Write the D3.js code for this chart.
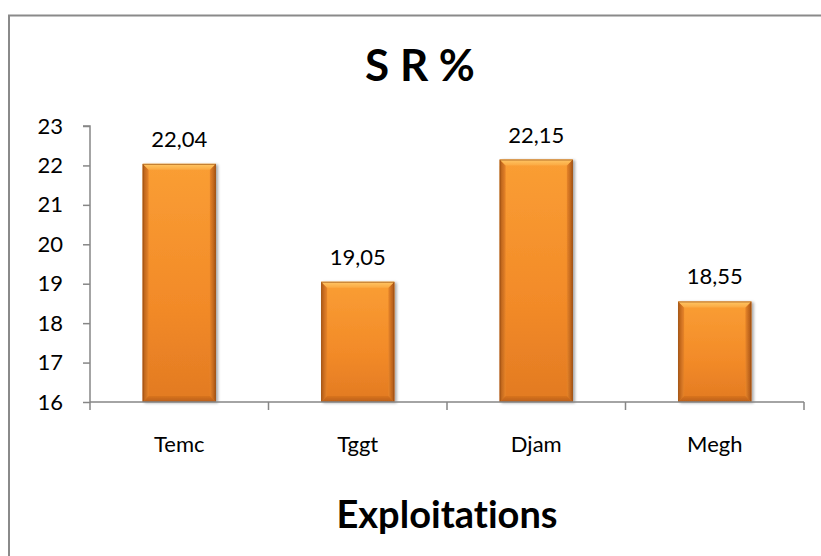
<!DOCTYPE html>
<html>
<head>
<meta charset="utf-8">
<script src="https://cdn.jsdelivr.net/npm/d3@7"></script>
<style>
  html, body { margin: 0; padding: 0; background: #fff; }
  svg { display: block; }
  text { font-family: Lato, "Open Sans", sans-serif; fill: #000; font-variant-ligatures: none; }
</style>
</head>
<body>
<svg id="chart" width="821" height="556"></svg>
<script>
// Data
const categories = ["Temc", "Tggt", "Djam", "Megh"];
const values = [22.04, 19.05, 22.15, 18.55];
const valueLabels = ["22,04", "19,05", "22,15", "18,55"];
const yTicks = [16, 17, 18, 19, 20, 21, 22, 23];
const chartTitle = "S R %";
const xTitle = "Exploitations";

const svg = d3.select("#chart");

// Outer chart frame (extends past the right and bottom edges)
svg.append("rect")
  .attr("x", 9).attr("y", 15.5)
  .attr("width", 900).attr("height", 700)
  .attr("fill", "none").attr("stroke", "#8a8a8a").attr("stroke-width", 2);

const plot = { left: 90, right: 804, top: 126, bottom: 402 };

const x = d3.scaleBand().domain(categories).range([plot.left, plot.right]).padding(0);
const y = d3.scaleLinear().domain([16, 23]).range([plot.bottom, plot.top]);

// Gradients for the bevelled bars
const defs = svg.append("defs");
const body = defs.append("linearGradient").attr("id", "barBody")
  .attr("x1", 0).attr("y1", 0).attr("x2", 0).attr("y2", 1);
body.append("stop").attr("offset", "0%").attr("stop-color", "#FA9E34");
body.append("stop").attr("offset", "60%").attr("stop-color", "#F28A28");
body.append("stop").attr("offset", "100%").attr("stop-color", "#E27A22");

const sideL = defs.append("linearGradient").attr("id", "sideL")
  .attr("x1", 0).attr("y1", 0).attr("x2", 1).attr("y2", 0);
sideL.append("stop").attr("offset", "0%").attr("stop-color", "#B05A18");
sideL.append("stop").attr("offset", "100%").attr("stop-color", "#E8852A");
const sideR = defs.append("linearGradient").attr("id", "sideR")
  .attr("x1", 0).attr("y1", 0).attr("x2", 1).attr("y2", 0);
sideR.append("stop").attr("offset", "0%").attr("stop-color", "#E8852A");
sideR.append("stop").attr("offset", "100%").attr("stop-color", "#A85416");
const topG = defs.append("linearGradient").attr("id", "topG")
  .attr("x1", 0).attr("y1", 0).attr("x2", 0).attr("y2", 1);
topG.append("stop").attr("offset", "0%").attr("stop-color", "#FFC766");
topG.append("stop").attr("offset", "100%").attr("stop-color", "#FBA941");
const botG = defs.append("linearGradient").attr("id", "botG")
  .attr("x1", 0).attr("y1", 0).attr("x2", 0).attr("y2", 1);
botG.append("stop").attr("offset", "0%").attr("stop-color", "#D9741F");
botG.append("stop").attr("offset", "100%").attr("stop-color", "#B85E18");

const shadow = defs.append("filter").attr("id", "shadow")
  .attr("x", "-20%").attr("y", "-20%").attr("width", "140%").attr("height", "140%");
shadow.append("feGaussianBlur").attr("in", "SourceAlpha").attr("stdDeviation", 1.5);
shadow.append("feOffset").attr("dx", 2).attr("dy", 1).attr("result", "ob");
shadow.append("feComponentTransfer").append("feFuncA").attr("type", "linear").attr("slope", 0.35);
const merge = shadow.append("feMerge");
merge.append("feMergeNode");
merge.append("feMergeNode").attr("in", "SourceGraphic");

// Bars
const barFrac = 0.41;
const bev = 6;
const bars = svg.append("g").selectAll("g.bar")
  .data(categories.map((c, i) => ({ c, v: values[i], label: valueLabels[i] })))
  .join("g").attr("class", "bar");

bars.each(function (d) {
  const g = d3.select(this);
  const bw = x.bandwidth() * barFrac;
  const x0 = x(d.c) + (x.bandwidth() - bw) / 2;
  const x1 = x0 + bw;
  const y0 = y(d.v);
  const y1 = y(16);
  const grp = g.append("g").attr("filter", "url(#shadow)");
  grp.append("rect").attr("x", x0).attr("y", y0).attr("width", bw).attr("height", y1 - y0)
    .attr("fill", "url(#barBody)");
  // left bevel
  grp.append("path").attr("d", `M${x0},${y0}L${x0 + bev},${y0 + bev}L${x0 + bev},${y1 - bev}L${x0},${y1}Z`)
    .attr("fill", "url(#sideL)");
  // right bevel
  grp.append("path").attr("d", `M${x1},${y0}L${x1 - bev},${y0 + bev}L${x1 - bev},${y1 - bev}L${x1},${y1}Z`)
    .attr("fill", "url(#sideR)");
  // top bevel
  grp.append("path").attr("d", `M${x0},${y0}L${x1},${y0}L${x1 - bev},${y0 + bev}L${x0 + bev},${y0 + bev}Z`)
    .attr("fill", "url(#topG)");
  // bottom bevel
  grp.append("path").attr("d", `M${x0},${y1}L${x1},${y1}L${x1 - bev},${y1 - bev}L${x0 + bev},${y1 - bev}Z`)
    .attr("fill", "url(#botG)");
  grp.append("rect").attr("x", x0 + 0.5).attr("y", y0 + 0.5).attr("width", bw - 1).attr("height", y1 - y0 - 1)
    .attr("fill", "none").attr("stroke", "#9C5215").attr("stroke-opacity", 0.7).attr("stroke-width", 1);

  // value label
  g.append("text")
    .attr("x", x(d.c) + x.bandwidth() / 2)
    .attr("y", y0 - 17)
    .attr("text-anchor", "middle")
    .style("font-size", "22px")
    .text(d.label);
});

// Y axis
const yAxis = d3.axisLeft(y).tickValues(yTicks).tickSize(7).tickPadding(20).tickFormat(d3.format("d"));
const gy = svg.append("g").attr("transform", `translate(${plot.left},0)`).call(yAxis);
gy.select(".domain").attr("stroke", "#868686").attr("stroke-width", 1.5)
  .attr("d", `M-7,${plot.top}H0V${plot.bottom}`);
gy.selectAll(".tick line").attr("stroke", "#868686").attr("stroke-width", 1.5);
gy.selectAll(".tick text").style("font-size", "22px").style("font-family", "Lato, sans-serif").attr("fill", "#000");

// X axis: labels at band centres, tick marks at band boundaries
const xAxis = d3.axisBottom(x).tickSize(0).tickPadding(34);
const gx = svg.append("g").attr("transform", `translate(0,${plot.bottom})`).call(xAxis);
gx.select(".domain").attr("stroke", "#868686").attr("stroke-width", 1.5)
  .attr("d", `M${plot.left},0H${plot.right}`);
gx.selectAll(".tick text").style("font-size", "22px").style("font-family", "Lato, sans-serif").attr("fill", "#000");

const bounds = categories.map(c => x(c)).concat([x(categories[categories.length - 1]) + x.bandwidth()]);
svg.append("g").selectAll("line").data(bounds).join("line")
  .attr("x1", d => d).attr("x2", d => d)
  .attr("y1", plot.bottom).attr("y2", plot.bottom + 8)
  .attr("stroke", "#868686").attr("stroke-width", 1.5);

// Titles
svg.append("text").attr("x", 420).attr("y", 81).attr("text-anchor", "middle")
  .style("font-size", "44px").style("font-weight", "bold").text(chartTitle);
svg.append("text").attr("x", (plot.left + plot.right) / 2).attr("y", 528).attr("text-anchor", "middle")
  .style("font-size", "38px").style("font-weight", "bold").text(xTitle);
</script>
</body>
</html>
